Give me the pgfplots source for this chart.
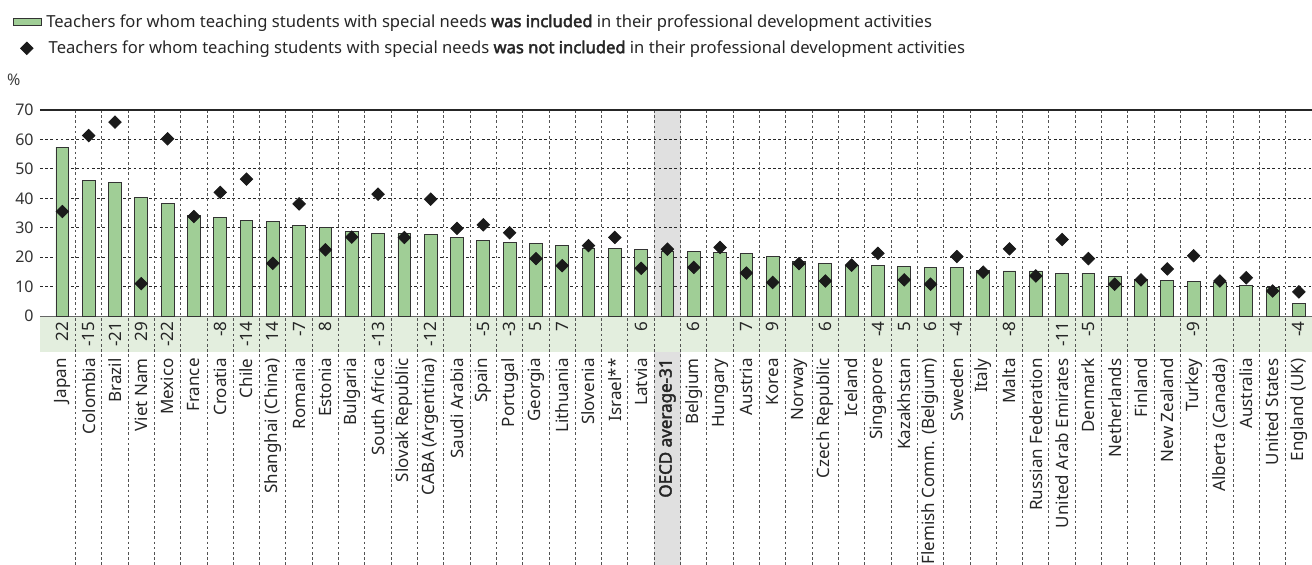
\documentclass[border=0pt]{standalone}
\usepackage{fontspec}
\setmainfont{Noto Sans}[BoldFont={Noto Sans}, BoldFeatures={FakeBold=2.5}]
\usepackage{pgfplots}
\usepackage{pgfplotstable}
\pgfplotsset{compat=1.18}
\definecolor{barfill}{RGB}{160,206,150}
\definecolor{bandgreen}{RGB}{227,238,222}
\definecolor{oecdgrey}{RGB}{224,224,224}
\definecolor{dia}{RGB}{26,26,26}
\definecolor{gridc}{RGB}{40,40,40}

\pgfplotstableread{
x inc notinc
0 57.4 35.5
1 45.9 61.3
2 45.4 65.9
3 40.4 11.0
4 38.4 60.2
5 34.3 33.8
6 33.6 42.0
7 32.6 46.5
8 32.2 17.9
9 30.9 38.1
10 30.0 22.5
11 28.8 26.8
12 28.1 41.4
13 28.1 26.7
14 27.8 39.7
15 26.7 29.8
16 25.8 31.0
17 25.1 28.3
18 24.5 19.5
19 24.1 17.1
20 23.0 23.9
21 23.0 26.7
22 22.7 16.2
23 22.1 22.7
24 21.9 16.5
25 21.7 23.3
26 21.2 14.6
27 20.1 11.4
28 18.4 17.8
29 17.7 11.9
30 17.3 17.3
31 17.3 21.3
32 16.8 12.3
33 16.6 10.8
34 16.5 20.2
35 15.4 14.9
36 15.3 22.8
37 15.3 13.6
38 14.5 26.0
39 14.5 19.5
40 13.4 10.8
41 12.5 12.3
42 12.1 16.0
43 11.8 20.5
44 11.4 11.9
45 10.3 13.0
46 9.6 8.5
47 4.3 8.2
}\datatable

\pgfplotstableread{
x y d
0 -1.8 22
1 -1.8 -15
2 -1.8 -21
3 -1.8 29
4 -1.8 -22
6 -1.8 -8
7 -1.8 -14
8 -1.8 14
9 -1.8 -7
10 -1.8 8
12 -1.8 -13
14 -1.8 -12
16 -1.8 -5
17 -1.8 -3
18 -1.8 5
19 -1.8 7
22 -1.8 6
24 -1.8 6
26 -1.8 7
27 -1.8 9
29 -1.8 6
31 -1.8 -4
32 -1.8 5
33 -1.8 6
34 -1.8 -4
36 -1.8 -8
38 -1.8 -11
39 -1.8 -5
43 -1.8 -9
47 -1.8 -4
}\difftable

\begin{document}
\begin{tikzpicture}
\path[use as bounding box] (-20pt,-124pt) rectangle (636pt,158pt);
% OECD grey column, drawn behind the whole axis (x from 22.5 to 23.5 in axis units)
\fill[oecdgrey] (307.15pt,103pt) rectangle (320.30pt,-127pt);
\begin{axis}[
  at={(0,0)}, anchor=south west,
  scale only axis, width=636pt, height=103pt,
  xmin=-0.85, xmax=47.5, ymin=0, ymax=70,
  clip=false,
  axis line style={draw=none},
  major tick length=0pt,
  ytick={0,10,...,70},
  yticklabel style={font=\fontsize{8}{9}\selectfont, text=black!80, inner sep=1pt, xshift=-2pt},
  /pgf/number format/assume math mode=true,
  xtick={0,...,47},
  xticklabels={Japan,Colombia,Brazil,Viet Nam,Mexico,France,Croatia,Chile,Shanghai (China),Romania,Estonia,Bulgaria,South Africa,Slovak Republic,CABA (Argentina),Saudi Arabia,Spain,Portugal,Georgia,Lithuania,Slovenia,Israel**,Latvia,\textbf{OECD average-31},Belgium,Hungary,Austria,Korea,Norway,Czech Republic,Iceland,Singapore,Kazakhstan,Flemish Comm. (Belgium),Sweden,Italy,Malta,Russian Federation,United Arab Emirates,Denmark,Netherlands,Finland,New Zealand,Turkey,Alberta (Canada),Australia,United States,England (UK)},
  xticklabel style={rotate=90, anchor=east, font=\fontsize{8.5}{10}\selectfont, text=black!85, inner sep=0pt},
  xticklabel shift=21pt,
  legend style={at={(rel axis cs:0,1)}, anchor=north west, xshift=-13.5pt, yshift=50pt,
    draw=none, fill=none, inner sep=0pt, row sep=1.2pt,
    font=\fontsize{8.3}{9.5}\selectfont, text=black!85,
    cells={anchor=west}},
]
% green band of differences
\fill[bandgreen] (axis cs:-0.85,0) rectangle (axis cs:47.5,-12.25);
% horizontal gridlines
\pgfplotsinvokeforeach{10,20,30,40,50,60}{
  \draw[gridc, dash pattern=on 1.3pt off 1.3pt, line width=0.5pt] (axis cs:-0.85,#1) -- (axis cs:47.5,#1);
}
% vertical category separators
\pgfplotsinvokeforeach{0,...,46}{
  \draw[gridc!80, dash pattern=on 1.3pt off 1.3pt, line width=0.5pt] (axis cs:#1.5,70) -- (axis cs:#1.5,-86);
}
\draw[black!85, line width=0.6pt] (axis cs:-0.85,70) -- (axis cs:47.5,70);
\draw[black!60, line width=0.4pt] (axis cs:-0.85,0) -- (axis cs:47.5,0);

\addplot[ybar, bar width=6.4pt, bar shift=0pt, fill=barfill, draw=black!80, line width=0.45pt,
  legend image code/.code={\draw[fill=barfill, draw=black!80, line width=0.45pt] (0pt,-1.75pt) rectangle (14pt,1.75pt);}]
  table[x=x, y=inc] {\datatable};
\addlegendentry{Teachers for whom teaching students with special needs \textbf{was included} in their professional development activities}

\addplot[only marks, mark=square*, mark size=2.2pt, mark options={rotate=45, fill=dia, draw=dia},
  legend image code/.code={\draw[only marks, mark=square*, mark size=2.2pt, mark options={rotate=45, fill=dia, draw=dia}] plot coordinates {(6.5pt,0pt)};}]
  table[x=x, y=notinc] {\datatable};
\addlegendentry{\hspace{1.2pt}Teachers for whom teaching students with special needs \textbf{was not included} in their professional development activities}

\addplot[only marks, mark=none, point meta=explicit symbolic,
  nodes near coords, nodes near coords align={anchor=east},
  every node near coord/.append style={rotate=90, anchor=east, inner sep=0pt, font=\fontsize{8.5}{9}\selectfont, text=black!85},
  forget plot]
  table[x=x, y=y, meta=d] {\difftable};

\node[font=\fontsize{8}{9}\selectfont, text=black!75, anchor=west] at (rel axis cs:0,1) [xshift=-20pt, yshift=15pt] {\%};
\end{axis}
\end{tikzpicture}
\end{document}
